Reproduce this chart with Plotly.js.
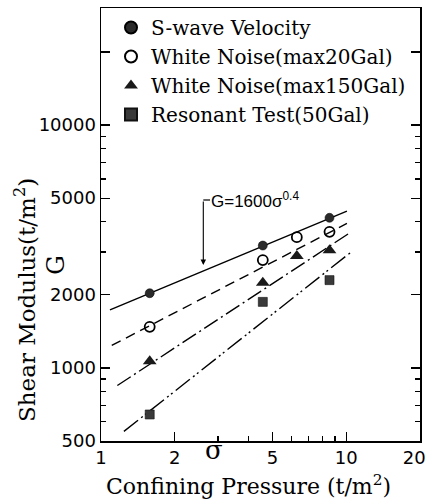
<!DOCTYPE html>
<html>
<head>
<meta charset="utf-8">
<script src="https://cdn.plot.ly/plotly-3.0.1.min.js"></script>
<style>
html,body{margin:0;padding:0;background:#fff;}
#chart{width:426px;height:501px;}
</style>
</head>
<body>
<div id="chart"></div>
<script>
// ---- data ----
const seriesNames = ["S-wave Velocity", "White Noise(max20Gal)", "White Noise(max150Gal)", "Resonant Test(50Gal)"];

const swaveX = [1.58, 4.57, 8.55];
const swaveY = [2030, 3190, 4150];

const wn20X = [1.58, 4.57, 6.29, 8.55];
const wn20Y = [1476, 2780, 3455, 3634];

const wn150X = [1.58, 4.57, 6.29, 8.55];
const wn150Y = [1066, 2240, 2886, 3050];

const resX = [1.58, 4.57, 8.55];
const resY = [643, 1870, 2298];

// fitted lines (end points)
const fit1X = [1.088, 10.07];
const fit1Y = [1735, 4424];
const fit2X = [1.106, 10.07];
const fit2Y = [1237, 3936];
const fit3X = [1.166, 10.2];
const fit3Y = [846, 3565];
const fit4X = [1.24, 10.38];
const fit4Y = [548, 2977];

// ticks
const xTickVals = [1, 2, 5, 10, 20];
const xTickText = ["1", "2", "5", "10", "20\u00a0\u00a0"];
const xMinorVals = [3, 4, 6, 7, 8, 9];
const yTickVals = [500, 1000, 2000, 5000, 10000, 20000];
const yTickText = ["500", "1000", "2000", "5000", "10000", " "];
const yMinorVals = [600, 700, 800, 900, 3000, 4000, 6000, 7000, 8000, 9000];

const formulaText = "G=1600σ<sup>0.4</sup>";

// ---- plot ----
const lineCol = "#000";
const traces = [
  {x: fit1X, y: fit1Y, mode: "lines", line: {color: lineCol, width: 1.4}, showlegend: false, hoverinfo: "skip"},
  {x: fit2X, y: fit2Y, mode: "lines", line: {color: lineCol, width: 1.4, dash: "10px,6px"}, showlegend: false, hoverinfo: "skip"},
  {x: fit3X, y: fit3Y, mode: "lines", line: {color: lineCol, width: 1.4, dash: "16px,4px,2px,4px"}, showlegend: false, hoverinfo: "skip"},
  {x: fit4X, y: fit4Y, mode: "lines", line: {color: lineCol, width: 1.4, dash: "18px,4px,2px,3px,2px,4px"}, showlegend: false, hoverinfo: "skip"},
  {x: swaveX, y: swaveY, name: seriesNames[0], mode: "markers",
   marker: {symbol: "circle", size: 9, color: "#2a2a2a", line: {color: "#000", width: 0.5}}},
  {x: wn20X, y: wn20Y, name: seriesNames[1], mode: "markers",
   marker: {symbol: "circle-open", size: 10, color: "#000", line: {color: "#000", width: 1.8}}},
  {x: wn150X, y: wn150Y, name: seriesNames[2], mode: "markers",
   marker: {symbol: "triangle-up", size: 12, color: "#1a1a1a"}},
  {x: resX, y: resY, name: seriesNames[3], mode: "markers",
   marker: {symbol: "square", size: 9, color: "#3a3a3a", line: {color: "#111", width: 0.6}}}
];

const L = 101, R = 420, T = 8, B = 441;
const W = R - L, H = B - T;
const px = v => (v - L) / W;
const py = v => (B - v) / H;

const serif = "DejaVu Serif";
const sans = "DejaVu Sans";

const layout = {
  width: 426, height: 501,
  margin: {l: L, r: 426 - R, t: T, b: 501 - B, pad: 0},
  paper_bgcolor: "#fff", plot_bgcolor: "#fff",
  showlegend: true,
  legend: {
    x: px(111), y: 1, xanchor: "left", yanchor: "top",
    font: {family: serif, size: 20, color: "#000"},
    bgcolor: "rgba(0,0,0,0)", borderwidth: 0,
    itemsizing: "constant", tracegroupgap: 0
  },
  xaxis: {
    type: "log", range: [0, Math.log10(20)],
    showgrid: false, zeroline: false,
    showline: true, linecolor: "#000", linewidth: 1.5, mirror: true,
    ticks: "inside", ticklen: 9, tickwidth: 1.3, tickcolor: "#000",
    tickvals: xTickVals, ticktext: xTickText, ticklabeloverflow: "allow",
    tickfont: {family: sans, size: 18, color: "#000"},
    minor: {tickvals: xMinorVals, ticks: "inside", ticklen: 5, tickwidth: 1.2, tickcolor: "#000", showgrid: false}
  },
  yaxis: {
    type: "log", range: [Math.log10(500), 4.482],
    showgrid: false, zeroline: false,
    showline: true, linecolor: "#000", linewidth: 1.5, mirror: "ticks",
    ticks: "inside", ticklen: 9, tickwidth: 1.3, tickcolor: "#000",
    tickvals: yTickVals, ticktext: yTickText, ticklabeloverflow: "allow",
    tickfont: {family: sans, size: 18, color: "#000"},
    minor: {tickvals: yMinorVals, ticks: "inside", ticklen: 5, tickwidth: 1.2, tickcolor: "#000", showgrid: false}
  },
  shapes: [
    {type: "line", xref: "paper", yref: "paper", x0: px(203.3), x1: px(210), y0: py(200), y1: py(200),
     line: {color: "#000", width: 1.2}}
  ],
  annotations: [
    {xref: "paper", yref: "paper", x: px(203.3), y: py(265), text: "", showarrow: true,
     ax: 0, ay: -65, axref: "pixel", ayref: "pixel", arrowhead: 2, arrowsize: 1, arrowwidth: 1.1, arrowcolor: "#000"},
    {xref: "paper", yref: "paper", x: px(209), y: py(200), xanchor: "left", yanchor: "middle",
     text: formulaText, showarrow: false, font: {family: "Liberation Sans", size: 17, color: "#000"}},
    {xref: "paper", yref: "paper", x: px(25), y: py(300), xanchor: "center", yanchor: "middle",
     text: "Shear Modulus(t/m<sup>2</sup>)",
     textangle: -90, showarrow: false, font: {family: serif, size: 23, color: "#000"}},
    {xref: "paper", yref: "paper", x: px(55), y: py(265), xanchor: "center", yanchor: "middle", text: "G",
     textangle: -90, showarrow: false, font: {family: serif, size: 25, color: "#000"}},
    {xref: "paper", yref: "paper", x: px(248), y: py(485), xanchor: "center", yanchor: "middle",
     text: "Confining Pressure (t/m<sup>2</sup>)",
     showarrow: false, font: {family: serif, size: 22, color: "#000"}},
    {xref: "paper", yref: "paper", x: px(214), y: py(450), xanchor: "center", yanchor: "middle", text: "σ",
     showarrow: false, font: {family: serif, size: 26, color: "#000"}}
  ]
};

Plotly.newPlot("chart", traces, layout, {staticPlot: true, displayModeBar: false});
</script>
</body>
</html>
